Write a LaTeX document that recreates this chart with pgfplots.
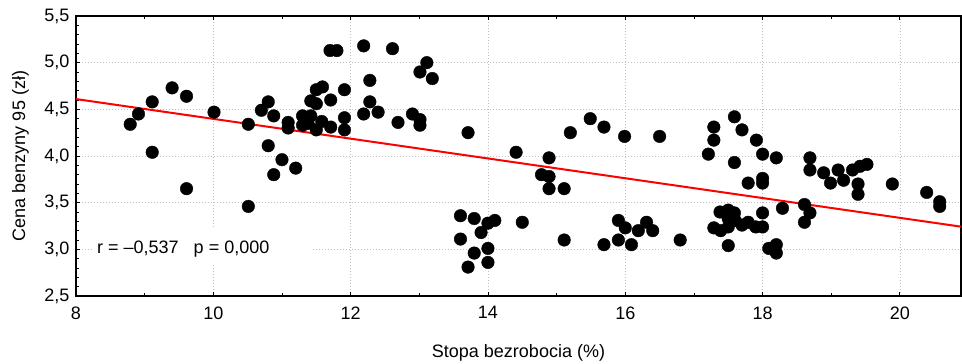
\documentclass[border=0pt]{standalone}
\usepackage{pgfplots}
\pgfplotsset{compat=1.18}
\usepackage{fontspec}
\setmainfont{Liberation Sans}
\begin{document}
\begin{tikzpicture}
\begin{axis}[
  at={(0pt,0pt)}, anchor=south west,
  scale only axis, width=885pt, height=280pt,
  xmin=8, xmax=20.89, ymin=2.5, ymax=5.5,
  xtick={8,10,...,20}, minor xtick={9,11,...,21},
  ytick={2.5,3,...,5.5}, minor y tick num=4,
  tick align=inside, xtick pos=both, ytick pos=left,
  major tick length=4pt, minor tick length=3pt,
  every tick/.style={black, line width=0.8pt},
  axis line style={line width=1.6pt},
  grid=major,
  major grid style={gray!50, line width=0.6pt, dash pattern=on 1.2pt off 1.8pt},
  /pgf/number format/assume math mode=true,
  /pgf/number format/use comma,
  yticklabel style={xshift=-3pt, /pgf/number format/fixed, /pgf/number format/fixed zerofill, /pgf/number format/precision=1},
  xticklabel style={yshift=-7pt},
  tick label style={font=\fontsize{18}{21}\selectfont},
  label style={font=\fontsize{18}{21}\selectfont},
  xlabel={Stopa bezrobocia (\%)},
  ylabel={Cena benzyny 95 (zł)},
  xlabel style={at={(axis description cs:0.5,-0.2179)}, anchor=base},
  ylabel style={at={(axis description cs:-0.0576,0.5)}, anchor=base},
  clip=false,
]
\fill[white] (axis cs:8.25,3.229) rectangle (axis cs:11.45,2.853);
\node[anchor=base west, font=\fontsize{18}{21}\selectfont, inner sep=0pt] at (axis cs:8.306,2.95) {r = –0,537\hspace{15pt}p = 0,000};
\addplot[red, line width=2pt, no marks] coordinates {(8,4.61) (20.89,3.243)};
\addplot[only marks, mark=*, mark size=6.3pt, black] coordinates {
(8.79,4.34) (8.91,4.45) (9.11,4.58) (9.11,4.04) (9.40,4.73) (9.61,4.64) (9.61,3.65)
(10.01,4.47) (10.51,4.34) (10.51,3.46) (10.70,4.49) (10.80,4.58) (10.88,4.43) (10.80,4.11)
(11.00,3.96) (10.88,3.80) (11.20,3.87) (11.09,4.36) (11.09,4.30) (11.30,4.43) (11.30,4.33)
(11.42,4.43) (11.42,4.59) (11.50,4.56) (11.50,4.71) (11.59,4.74) (11.50,4.28) (11.58,4.37)
(11.38,4.35) (11.71,4.31) (11.71,4.60) (11.70,5.13) (11.80,5.13) (11.91,4.71) (11.91,4.41)
(11.91,4.28) (12.19,5.18) (12.28,4.81) (12.28,4.58) (12.19,4.45) (12.40,4.47) (12.61,5.15)
(12.69,4.36) (13.11,5.00) (13.01,4.90) (13.19,4.83) (12.90,4.45) (13.01,4.39) (13.01,4.33)
(13.71,4.25) (14.41,4.04) (14.89,3.98) (14.78,3.80) (14.89,3.78) (14.89,3.65) (15.11,3.65)
(13.60,3.36) (13.80,3.33) (14.00,3.28) (14.10,3.31) (13.90,3.18) (13.60,3.11) (14.00,3.01)
(13.80,2.96) (14.00,2.86) (13.71,2.81) (14.50,3.29) (15.20,4.25) (15.49,4.40) (15.69,4.31)
(15.99,4.21) (16.50,4.21) (15.11,3.10) (15.69,3.05) (15.90,3.31) (16.00,3.23) (15.90,3.10)
(16.09,3.05) (16.19,3.20) (16.31,3.29) (16.40,3.20) (16.80,3.10) (17.29,4.31) (17.29,4.17)
(17.21,4.02) (17.59,4.42) (17.70,4.28) (17.91,4.17) (18.00,4.02) (18.20,3.98) (17.59,3.93)
(17.79,3.71) (18.00,3.76) (18.00,3.71) (18.69,3.98) (18.69,3.85) (18.89,3.82) (18.99,3.71)
(19.10,3.85) (19.18,3.74) (19.31,3.85) (19.42,3.89) (19.52,3.91) (19.39,3.70) (19.39,3.59)
(19.89,3.70) (20.39,3.61) (20.58,3.51) (20.58,3.46) (18.29,3.44) (18.61,3.48) (18.69,3.39)
(18.61,3.29) (17.38,3.40) (17.50,3.42) (17.59,3.39) (17.50,3.33) (17.60,3.31) (17.29,3.23)
(17.39,3.20) (17.50,3.24) (17.70,3.26) (17.79,3.29) (17.90,3.24) (18.00,3.39) (18.00,3.24)
(17.50,3.04) (18.09,3.01) (18.20,3.05) (18.20,2.96)
};
\end{axis}
\pgfresetboundingbox
\path[use as bounding box] (-76pt,-68pt) rectangle (886pt,296pt);
\end{tikzpicture}
\end{document}
